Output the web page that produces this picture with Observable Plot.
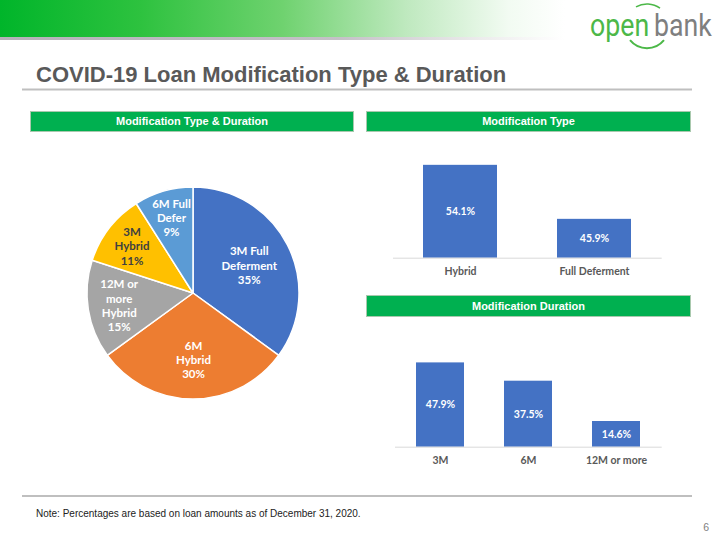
<!DOCTYPE html>
<html><head><meta charset="utf-8">
<script src="https://cdn.jsdelivr.net/npm/d3@7"></script>
<script src="https://cdn.jsdelivr.net/npm/@observablehq/plot@0.6"></script>
<style>
body{margin:0;background:#fff;}
#page{position:relative;width:720px;height:540px;overflow:hidden;font-family:"Liberation Sans",Arial,sans-serif;}
.abs{position:absolute;}
.hdr{position:absolute;background:#00B050;border:1px solid #a9c9ae;color:#fff;font-weight:bold;font-size:11px;text-align:center;box-sizing:border-box;line-height:19px;}
#grad{position:absolute;left:0;top:0;width:565px;height:37px;background:linear-gradient(to right,#00b52a 0%,#2ec23f 25%,#6fd26f 50%,#bfe9bf 72%,#f2fbf2 90%,#ffffff 100%);}
#gstripe{position:absolute;left:0;top:37px;width:565px;height:3px;background:linear-gradient(to right,#b5b1b9 0%,#c4c1c7 60%,#ececec 85%,#ffffff 100%);}
</style></head><body>
<div id="page">
  <div id="grad"></div>
  <div id="gstripe"></div>
  <svg class="abs" style="left:0;top:0" width="720" height="540">
    <path d="M636,6.9 A22,22 0 0,1 660,8.2" fill="none" stroke="#4CB848" stroke-width="1.5"/>
    <path d="M664,40.1 A22,22 0 0,1 630,40.1" fill="none" stroke="#4CB848" stroke-width="2"/>
    <text transform="translate(590,36) scale(0.835,1)" font-family="Roboto,'Liberation Sans',sans-serif" font-size="32" fill="#4CB848">open</text>
    <text transform="translate(654,36) scale(0.835,1)" font-family="Roboto,'Liberation Sans',sans-serif" font-size="32" fill="#7f7f7f">bank</text>
    <text x="36" y="81.5" font-family="'Liberation Sans',Arial,sans-serif" font-weight="bold" font-size="22" fill="#595959">COVID-19 Loan Modification Type &amp; Duration</text>
    <line x1="22" x2="692" y1="89.5" y2="89.5" stroke="#bfbfbf" stroke-width="2"/>
    <line x1="22" x2="692" y1="496" y2="496" stroke="#bfbfbf" stroke-width="2"/>
    <text x="36" y="517" font-family="'Liberation Sans',Arial,sans-serif" font-size="10" fill="#222">Note: Percentages are based on loan amounts as of December 31, 2020.</text>
    <text x="709" y="531" text-anchor="end" font-family="'Liberation Sans',Arial,sans-serif" font-size="10.5" fill="#7f7f7f">6</text>
  </svg>
  <div class="hdr" style="left:30px;top:111px;width:324px;height:21px;">Modification Type &amp; Duration</div>
  <div class="hdr" style="left:366px;top:111px;width:325px;height:21px;">Modification Type</div>
  <div class="hdr" style="left:366px;top:295px;width:325px;height:22px;line-height:20px;">Modification Duration</div>
  <div id="pie" class="abs" style="left:78px;top:178px;"></div>
  <div id="bar1" class="abs" style="left:360px;top:140px;"></div>
  <div id="bar2" class="abs" style="left:360px;top:330px;"></div>
</div>
<script>
// ---- data ----
const sliceNames = ["3M Full Deferment", "6M Hybrid", "12M or more Hybrid", "3M Hybrid", "6M Full Defer"];
const sliceLabels = ["3M Full\nDeferment\n35%", "6M\nHybrid\n30%", "12M or\nmore\nHybrid\n15%", "3M\nHybrid\n11%", "6M Full\nDefer\n9%"];
const sliceValues = [35, 30, 15, 11, 9];
const sliceColors = ["#4472C4", "#ED7D31", "#A5A5A5", "#FFC000", "#5B9BD5"];

const typeCategories = ["Hybrid", "Full Deferment"];
const typeValues = [54.1, 45.9];

const durationCategories = ["3M", "6M", "12M or more"];
const durationValues = [47.9, 37.5, 14.6];

const labelFont = "Lato, 'Open Sans', sans-serif";
const barColor = "#4472C4";

// ---- pie ----
const arcs = d3.pie().sort(null)(sliceValues);
const pieRows = sliceNames.map((name, i) => {
  const a = arcs[i];
  const mid = (a.startAngle + a.endAngle) / 2;
  const share = sliceValues[i] / d3.sum(sliceValues);
  const lr = 0.8 - 0.6 * share;
  return {name, label: sliceLabels[i], value: sliceValues[i], start: a.startAngle, end: a.endAngle, lx: Math.sin(mid) * lr, ly: Math.cos(mid) * lr};
});
const sliceColor = d3.scaleOrdinal(sliceNames, sliceColors);

function pieSlices(index, scales) {
  const cx = scales.x(0), cy = scales.y(0);
  const r = scales.x(1) - cx;
  const arc = d3.arc().innerRadius(0).outerRadius(r);
  const g = d3.create("svg:g").attr("transform", `translate(${cx},${cy})`);
  g.selectAll("path").data(pieRows).join("path")
    .attr("d", d => arc({startAngle: d.start, endAngle: d.end}))
    .attr("fill", d => sliceColor(d.name))
    .attr("stroke", "#fff").attr("stroke-width", 1.5).attr("stroke-linejoin", "round");
  return g.node();
}

const pie = Plot.plot({
  width: 230, height: 230, margin: 0,
  x: {domain: [-1, 1], range: [9, 221], axis: null},
  y: {domain: [-1, 1], range: [221, 9], axis: null},
  style: {background: "transparent", fontFamily: labelFont},
  marks: [
    pieSlices,
    Plot.text(pieRows.filter(d => d.name !== "3M Hybrid"), {x: "lx", y: "ly", text: "label", fill: "#fff", fontWeight: "bold", fontSize: 11.5, lineHeight: 1.24}),
    Plot.text(pieRows.filter(d => d.name === "3M Hybrid"), {x: "lx", y: "ly", text: "label", fill: "#404040", fontWeight: "bold", fontSize: 11.5, lineHeight: 1.24})
  ]
});
document.getElementById("pie").appendChild(pie);

// ---- bar chart 1 ----
const typeRows = typeCategories.map((c, i) => ({cat: c, v: typeValues[i]}));
const bar1 = Plot.plot({
  width: 340, height: 145,
  marginLeft: 33, marginRight: 38.3, marginTop: 18.9, marginBottom: 27.3,
  style: {background: "transparent", fontFamily: labelFont, fontSize: "10.5px", fontWeight: "bold", color: "#595959"},
  x: {domain: typeCategories, paddingInner: 0.45, paddingOuter: 0.225, label: null, tickSize: 0, tickPadding: 9},
  y: {domain: [40, 55], axis: null, clamp: true},
  marks: [
    Plot.barY(typeRows, {x: "cat", y1: 40, y2: "v", fill: barColor}),
    Plot.ruleY([40], {stroke: "#d9d9d9", strokeWidth: 1}),
    Plot.text(typeRows, {x: "cat", y: d => (40 + d.v) / 2, text: d => d.v.toFixed(1) + "%", fill: "#fff", fontWeight: "bold", fontSize: 10.5})
  ]
});
document.getElementById("bar1").appendChild(bar1);

// ---- bar chart 2 ----
const durRows = durationCategories.map((c, i) => ({cat: c, v: durationValues[i]}));
const bar2 = Plot.plot({
  width: 340, height: 150,
  marginLeft: 35, marginRight: 38.3, marginTop: 28.7, marginBottom: 33.3,
  style: {background: "transparent", fontFamily: labelFont, fontSize: "10.5px", fontWeight: "bold", color: "#595959"},
  x: {domain: durationCategories, paddingInner: 0.45, paddingOuter: 0.225, label: null, tickSize: 0, tickPadding: 9},
  y: {domain: [0, 50], axis: null},
  marks: [
    Plot.barY(durRows, {x: "cat", y: "v", fill: barColor}),
    Plot.ruleY([0], {stroke: "#d9d9d9", strokeWidth: 1}),
    Plot.text(durRows, {x: "cat", y: d => d.v / 2, text: d => d.v.toFixed(1) + "%", fill: "#fff", fontWeight: "bold", fontSize: 10.5})
  ]
});
document.getElementById("bar2").appendChild(bar2);
</script>
</body></html>
